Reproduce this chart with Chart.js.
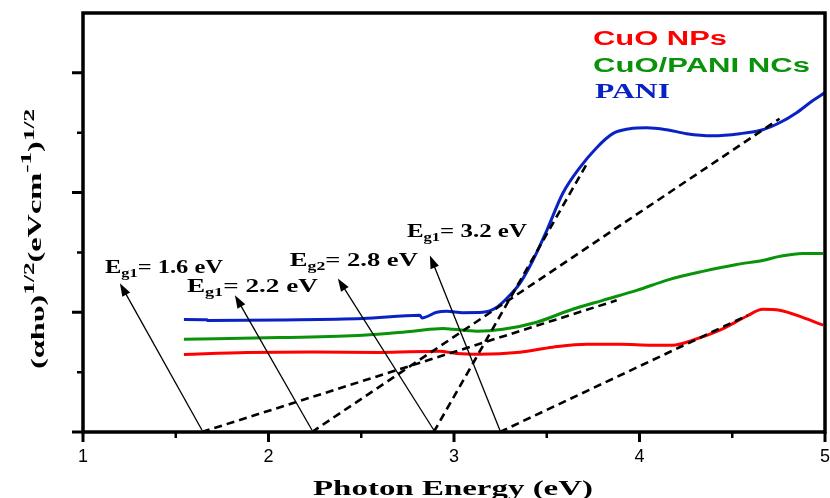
<!DOCTYPE html>
<html>
<head>
<meta charset="utf-8">
<script src="https://cdn.jsdelivr.net/npm/chart.js@4.4.1/dist/chart.umd.min.js"></script>
<style>
  html, body { margin: 0; padding: 0; background: #fff; }
</style>
</head>
<body>
<canvas id="myChart" width="830" height="498"></canvas>
<script>
/******************* data *******************/
const xTicks = [1, 2, 3, 4, 5];
const xMinor = [1.5, 2.5, 3.5, 4.5];
const yTicks = [0, 1, 2, 3];          // no labels on y
const yMinor = [0.5, 1.5, 2.5];

// CuO NPs
const cuoX = [1.544, 1.884, 2.239, 2.6, 2.923, 3.015, 3.139, 3.355, 3.532, 3.716, 3.893, 4.071, 4.179, 4.287, 4.433, 4.578, 4.664, 4.755, 4.879, 4.99];
const cuoY = [0.648, 0.664, 0.669, 0.664, 0.675, 0.656, 0.65, 0.667, 0.708, 0.733, 0.733, 0.725, 0.725, 0.767, 0.85, 0.967, 1.025, 1.017, 0.958, 0.892];

// CuO/PANI NCs
const ncX = [1.544, 2.061, 2.509, 2.778, 2.94, 2.994, 3.123, 3.263, 3.446, 3.624, 3.802, 3.985, 4.163, 4.341, 4.524, 4.664, 4.755, 4.879, 4.99];
const ncY = [0.775, 0.789, 0.808, 0.842, 0.864, 0.858, 0.842, 0.858, 0.917, 1.017, 1.1, 1.183, 1.275, 1.342, 1.4, 1.433, 1.467, 1.492, 1.492];

// PANI
const paniX = [1.544, 1.668, 1.673, 2.061, 2.509, 2.816, 2.827, 2.907, 2.961, 3.047, 3.155, 3.231, 3.301, 3.355, 3.425, 3.5, 3.586, 3.678, 3.769, 3.856, 3.947, 4.039, 4.147, 4.254, 4.394, 4.54, 4.664, 4.755, 4.847, 4.933, 4.998];
const paniY = [0.939, 0.937, 0.931, 0.936, 0.948, 0.975, 0.953, 1.0, 1.008, 0.997, 1.0, 1.042, 1.142, 1.242, 1.433, 1.683, 1.992, 2.208, 2.375, 2.492, 2.533, 2.542, 2.525, 2.492, 2.475, 2.492, 2.525, 2.583, 2.667, 2.767, 2.833];

// tangent (extrapolation) lines: start on the energy axis, end on the curve
const tanX0 = [1.641, 2.234, 2.891, 3.247];
const tanX1 = [3.877, 4.755, 3.716, 4.583];
const tanY1 = [1.10, 2.617, 2.24, 0.975];

// band gap labels + arrows
const gapSub = ['g1', 'g1', 'g2', 'g1'];
const gapVal = ['1.6', '2.2', '2.8', '3.2'];
const arrowHeadX = [1.199, 1.819, 2.374, 2.87];
const arrowHeadY = [1.242, 1.142, 1.283, 1.475];
const labelX = [1.1185, 1.56, 2.115, 2.746];
const labelY = [1.325, 1.167, 1.383, 1.633];

const RED = '#ff0000', GREEN = '#0a930a', BLUE = '#0a22c4';
const SERIF = '"Liberation Serif", "Times New Roman", serif';
const SANS = '"Liberation Sans", Arial, sans-serif';

function pts(xs, ys) { return xs.map((x, i) => ({ x: x, y: ys[i] })); }

/******************* text helpers *******************/
function runsWidth(ctx, runs) {
  let w = 0;
  runs.forEach(r => { ctx.font = r.font; w += ctx.measureText(r.t).width; });
  return w;
}
function drawRuns(ctx, runs, x, y, target) {
  const sx = target / runsWidth(ctx, runs);
  ctx.save();
  ctx.translate(x, y);
  ctx.scale(sx, 1);
  let cx = 0;
  runs.forEach(r => {
    ctx.font = r.font;
    ctx.fillText(r.t, cx, r.dy || 0);
    cx += ctx.measureText(r.t).width;
  });
  ctx.restore();
}

/******************* decorations plugin *******************/
const decor = {
  id: 'decor',
  afterDatasetsDraw(chart) {
    const ctx = chart.ctx;
    const a = chart.chartArea;
    const xs = chart.scales.x, ys = chart.scales.y;
    ctx.save();
    ctx.textBaseline = 'alphabetic';
    ctx.fillStyle = '#000';
    ctx.strokeStyle = '#000';

    // arrows
    ctx.lineWidth = 1.3;
    for (let i = 0; i < tanX0.length; i++) {
      const x0 = xs.getPixelForValue(tanX0[i]), y0 = ys.getPixelForValue(0) - 2;
      const x1 = xs.getPixelForValue(arrowHeadX[i]), y1 = ys.getPixelForValue(arrowHeadY[i]);
      const ang = Math.atan2(y1 - y0, x1 - x0);
      const L = 13, W = 4.5;
      ctx.beginPath();
      ctx.moveTo(x0, y0);
      ctx.lineTo(x1 - Math.cos(ang) * L * 0.8, y1 - Math.sin(ang) * L * 0.8);
      ctx.stroke();
      ctx.beginPath();
      ctx.moveTo(x1, y1);
      ctx.lineTo(x1 - Math.cos(ang) * L - Math.sin(ang) * W, y1 - Math.sin(ang) * L + Math.cos(ang) * W);
      ctx.lineTo(x1 - Math.cos(ang) * L + Math.sin(ang) * W, y1 - Math.sin(ang) * L - Math.cos(ang) * W);
      ctx.closePath();
      ctx.fill();
    }

    // band gap labels
    const gapW = [118, 131, 128, 120];
    for (let i = 0; i < gapVal.length; i++) {
      drawRuns(ctx, [
        { t: 'E', font: 'bold 18px ' + SERIF },
        { t: gapSub[i], font: 'bold 12px ' + SERIF, dy: 4 },
        { t: '= ' + gapVal[i] + ' eV', font: 'bold 18px ' + SERIF }
      ], xs.getPixelForValue(labelX[i]), ys.getPixelForValue(labelY[i]), gapW[i]);
    }

    // frame
    ctx.lineWidth = 3.5;
    ctx.strokeRect(a.left, a.top, a.right - a.left, a.bottom - a.top);

    // ticks
    ctx.lineWidth = 3;
    ctx.beginPath();
    xTicks.forEach(v => { const p = xs.getPixelForValue(v); ctx.moveTo(p, a.bottom); ctx.lineTo(p, a.bottom + 10); });
    yTicks.forEach(v => { const p = ys.getPixelForValue(v); ctx.moveTo(a.left, p); ctx.lineTo(a.left - 11, p); });
    ctx.stroke();
    ctx.lineWidth = 2.5;
    ctx.beginPath();
    xMinor.forEach(v => { const p = xs.getPixelForValue(v); ctx.moveTo(p, a.bottom); ctx.lineTo(p, a.bottom + 6); });
    yMinor.forEach(v => { const p = ys.getPixelForValue(v); ctx.moveTo(a.left, p); ctx.lineTo(a.left - 6, p); });
    ctx.stroke();

    // x tick labels
    ctx.font = '18px ' + SANS;
    ctx.textAlign = 'center';
    xTicks.forEach(v => ctx.fillText(String(v), xs.getPixelForValue(v), 462));
    ctx.textAlign = 'left';

    // x title
    drawRuns(ctx, [{ t: 'Photon Energy (eV)', font: 'bold 22px ' + SERIF }], 313, 495, 280);

    // y title (rotated)
    ctx.save();
    ctx.translate(44, 369);
    ctx.rotate(-Math.PI / 2);
    drawRuns(ctx, [
      { t: '(\u03b1h\u03c5)', font: 'bold 18px ' + SERIF },
      { t: '1/2', font: 'bold 14px ' + SERIF, dy: -10 },
      { t: '(eVcm', font: 'bold 18px ' + SERIF, dy: -3 },
      { t: '-1', font: 'bold 14px ' + SERIF, dy: -13 },
      { t: ')', font: 'bold 18px ' + SERIF, dy: -3 },
      { t: '1/2', font: 'bold 14px ' + SERIF, dy: -10 }
    ], 0, 0, 260);
    ctx.restore();

    // legend
    ctx.fillStyle = RED;
    drawRuns(ctx, [{ t: 'CuO NPs', font: 'bold 20px ' + SANS }], 593, 45, 134);
    ctx.fillStyle = GREEN;
    drawRuns(ctx, [{ t: 'CuO/PANI NCs', font: 'bold 20px ' + SANS }], 593, 72, 217);
    ctx.fillStyle = BLUE;
    drawRuns(ctx, [{ t: 'PANI', font: 'bold 20px ' + SERIF }], 595, 98, 75);

    ctx.restore();
  }
};

/******************* chart *******************/
const tangentSets = tanX0.map((x0, i) => ({
  data: [{ x: x0, y: 0 }, { x: tanX1[i], y: tanY1[i] }],
  borderColor: '#000',
  borderWidth: 2.6,
  borderDash: [8, 5],
  pointRadius: 0,
  tension: 0
}));

function curve(xs, ys, color) {
  return {
    data: pts(xs, ys),
    borderColor: color,
    borderWidth: 3,
    pointRadius: 0,
    cubicInterpolationMode: 'monotone'
  };
}

const ctx = document.getElementById('myChart').getContext('2d');
new Chart(ctx, {
  type: 'line',
  data: {
    datasets: tangentSets.concat([
      curve(paniX, paniY, BLUE),
      curve(ncX, ncY, GREEN),
      curve(cuoX, cuoY, RED)
    ])
  },
  options: {
    responsive: false,
    animation: false,
    layout: { padding: { left: 83, right: 5, top: 13, bottom: 66 } },
    scales: {
      x: { type: 'linear', min: 1, max: 5, display: false },
      y: { type: 'linear', min: 0, max: 3.5, display: false }
    },
    plugins: {
      legend: { display: false },
      tooltip: { enabled: false }
    }
  },
  plugins: [decor]
});
</script>
</body>
</html>
